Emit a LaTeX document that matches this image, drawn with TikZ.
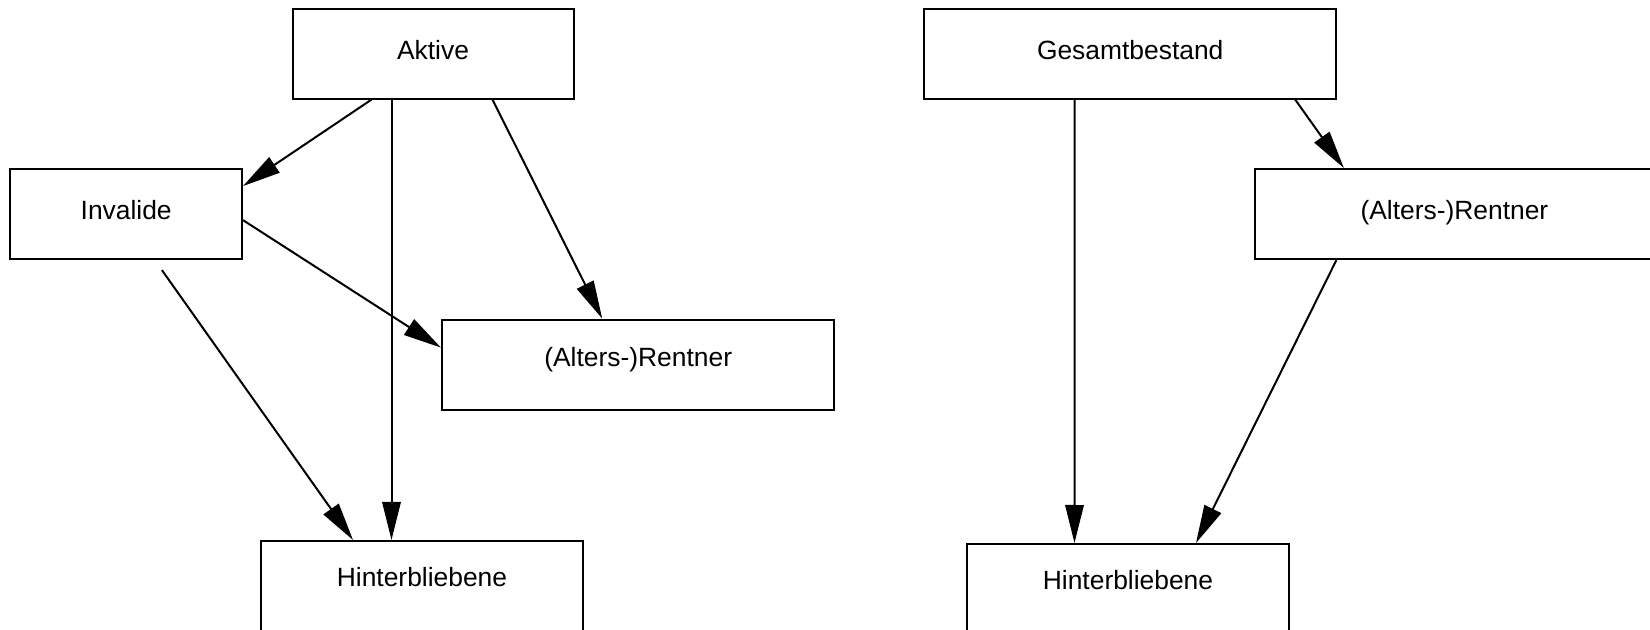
\documentclass[tikz,border=0pt]{standalone}
\usepackage{fontspec}
\setmainfont{Liberation Sans}
\usetikzlibrary{arrows.meta,calc}

\begin{document}
\begin{tikzpicture}[x=0.5pt,y=-0.5pt,
  kasten/.style={draw, line width=1pt, minimum height=45pt, inner sep=0pt,
    font=\fontsize{13.2}{16}\selectfont, text height=9.5pt, text depth=4pt},
  pfeil/.style={line width=1pt, -{Triangle[length=19pt,width=9.2pt]}}]
\useasboundingbox (0,0) rectangle (1650,630);
% left tree
\node[kasten, minimum width=140.5pt] (aktive) at (433,53.6) {Aktive};
\node[kasten, minimum width=115.75pt] (invalide) at (126.2,214.1) {Invalide};
\node[kasten, minimum width=196.25pt, text depth=7.6pt] (rentL) at (638.2,364.6) {(Alters-)Rentner};
\node[kasten, minimum width=161pt, minimum height=50pt, text depth=14pt] (hintL) at (422,591) {Hinterbliebene};
\draw[pfeil] ($(aktive.south)+(-61.5,0)$) -- ($(invalide.north east)+(0,18)$);
\draw[pfeil] ($(aktive.south)+(-41.5,0)$) -- ($(hintL.north)+(-30.5,0)$);
\draw[pfeil] ($(aktive.south)+(59.5,0)$) -- ($(rentL.north)+(-36,0)$);
\draw[pfeil] ($(invalide.east)+(0,6)$) -- ($(rentL.west)+(0,-17)$);
\draw[pfeil] ($(invalide.south)+(35.7,10)$) -- ($(hintL.north)+(-69,0)$);
% right tree
\node[kasten, minimum width=206pt] (gesamt) at (1130.2,53.6) {Gesamtbestand};
\node[kasten, minimum width=199pt] (rentR) at (1454.4,214.1) {(Alters-)Rentner};
\node[kasten, minimum width=161pt, minimum height=50pt, text depth=14pt] (hintR) at (1128,594) {Hinterbliebene};
\draw[pfeil] ($(gesamt.south)+(-55.5,0)$) -- ($(hintR.north)+(-53.5,0)$);
\draw[pfeil] ($(gesamt.south)+(165,0)$) -- ($(rentR.north)+(-110.5,0)$);
\draw[pfeil] ($(rentR.south)+(-118,0)$) -- ($(hintR.north)+(68,0)$);
\end{tikzpicture}
\end{document}
